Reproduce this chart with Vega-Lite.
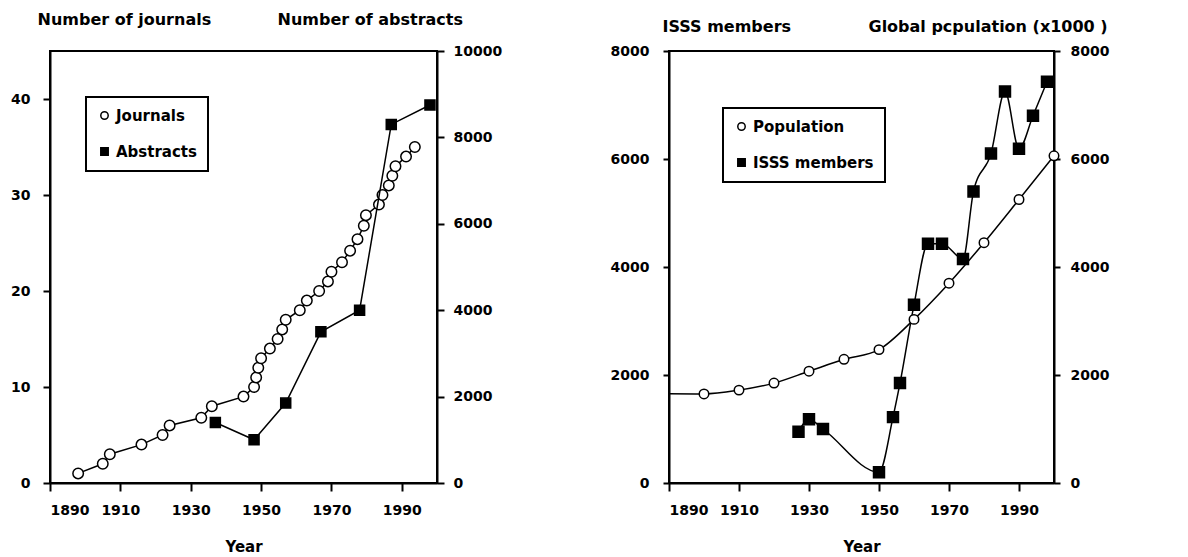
{
  "$schema": "https://vega.github.io/schema/vega-lite/v6.json",
  "background": "white",
  "padding": {"left": 9, "top": 10, "right": 5, "bottom": 0},
  "bounds": "flush",
  "spacing": 232,
  "config": {
    "view": {"stroke": "black", "strokeWidth": 2},
    "axis": {
      "grid": false, "domainColor": "black", "domainWidth": 2,
      "tickColor": "black", "tickWidth": 2, "tickSize": 7,
      "labelFont": "DejaVu Sans", "labelFontWeight": "bold", "labelFontSize": 14, "labelColor": "black",
      "titleFont": "DejaVu Sans", "titleFontWeight": "bold", "titleFontSize": 16, "titleColor": "black"
    },
    "legend": {
      "title": null, "orient": "none", "strokeColor": "black", "strokeWidth": 2, "fillColor": "white", "padding": 11, "rowPadding": 20,
      "labelFont": "DejaVu Sans", "labelFontWeight": "bold", "labelFontSize": 15, "labelColor": "black",
      "symbolSize": 55, "symbolStrokeColor": "black", "symbolStrokeWidth": 1.5, "labelOffset": 4
    }
  },
  "datasets": {
    "journals": [
      {"year": 1898, "value": 1}, {"year": 1905, "value": 2}, {"year": 1907, "value": 3},
      {"year": 1916, "value": 4}, {"year": 1922, "value": 5}, {"year": 1924, "value": 6},
      {"year": 1933, "value": 6.8}, {"year": 1936, "value": 8}, {"year": 1945, "value": 9},
      {"year": 1948, "value": 10}, {"year": 1948.6, "value": 11}, {"year": 1949.2, "value": 12},
      {"year": 1950, "value": 13}, {"year": 1952.5, "value": 14}, {"year": 1954.7, "value": 15},
      {"year": 1956, "value": 16}, {"year": 1957, "value": 17}, {"year": 1961, "value": 18},
      {"year": 1963, "value": 19}, {"year": 1966.5, "value": 20}, {"year": 1969, "value": 21},
      {"year": 1970, "value": 22}, {"year": 1973, "value": 23}, {"year": 1975.3, "value": 24.2},
      {"year": 1977.4, "value": 25.4}, {"year": 1979.2, "value": 26.8}, {"year": 1979.8, "value": 27.9},
      {"year": 1983.5, "value": 29}, {"year": 1984.5, "value": 30}, {"year": 1986.3, "value": 31},
      {"year": 1987.3, "value": 32}, {"year": 1988.2, "value": 33}, {"year": 1991.2, "value": 34},
      {"year": 1993.7, "value": 35}
    ],
    "abstracts": [
      {"year": 1937, "value": 1400}, {"year": 1948, "value": 1000}, {"year": 1957, "value": 1850},
      {"year": 1967, "value": 3500}, {"year": 1978, "value": 4000}, {"year": 1987, "value": 8300},
      {"year": 1998, "value": 8750}
    ],
    "population": [
      {"year": 1890, "value": 1655}, {"year": 1900, "value": 1650}, {"year": 1910, "value": 1720},
      {"year": 1920, "value": 1850}, {"year": 1930, "value": 2070}, {"year": 1940, "value": 2290},
      {"year": 1950, "value": 2470}, {"year": 1960, "value": 3030}, {"year": 1970, "value": 3700},
      {"year": 1980, "value": 4450}, {"year": 1990, "value": 5250}, {"year": 2000, "value": 6060}
    ],
    "isss": [
      {"year": 1927, "value": 950}, {"year": 1930, "value": 1180}, {"year": 1934, "value": 1000},
      {"year": 1950, "value": 200}, {"year": 1954, "value": 1220}, {"year": 1956, "value": 1850},
      {"year": 1960, "value": 3300}, {"year": 1964, "value": 4430}, {"year": 1968, "value": 4430},
      {"year": 1974, "value": 4150}, {"year": 1977, "value": 5400}, {"year": 1982, "value": 6100},
      {"year": 1986, "value": 7250}, {"year": 1990, "value": 6190}, {"year": 1994, "value": 6800},
      {"year": 1998, "value": 7430}
    ]
  },
  "resolve": {
    "scale": {"shape": "independent", "fill": "independent", "stroke": "independent"},
    "legend": {"shape": "independent", "fill": "independent", "stroke": "independent"}
  },
  "hconcat": [
    {
      "width": 387,
      "height": 432,
      "resolve": {"scale": {"y": "independent"}},
      "layer": [
        {
          "data": {"name": "journals"},
          "encoding": {
            "x": {"field": "year", "type": "quantitative", "scale": {"domain": [1890, 2000], "nice": false, "zero": false},
                  "axis": {"values": [1890, 1910, 1930, 1950, 1970, 1990], "format": "d", "title": "Year", "titleFontSize": 15, "labelPadding": 12, "tickSize": 8, "titlePadding": 22}},
            "y": {"field": "value", "type": "quantitative", "scale": {"domain": [0, 45], "nice": false},
                  "axis": {"orient": "left", "values": [0, 10, 20, 30, 40], "title": "Number of journals", "titleAngle": 0, "titleAlign": "left", "titleBaseline": "middle", "titleX": -13, "titleY": -32, "labelPadding": 13}}
          },
          "layer": [
            {"mark": {"type": "line", "color": "black", "strokeWidth": 1.5}},
            {"mark": {"type": "point", "strokeWidth": 1.5, "size": 110, "opacity": 1},
             "encoding": {
               "shape": {"datum": "Journals", "type": "nominal", "scale": {"domain": ["Journals", "Abstracts"], "range": ["circle", "square"]},
                         "legend": {"legendX": 36, "legendY": 46}},
               "fill": {"datum": "Journals", "type": "nominal", "scale": {"domain": ["Journals", "Abstracts"], "range": ["white", "black"]},
                        "legend": {"legendX": 36, "legendY": 46}},
               "stroke": {"datum": "Journals", "type": "nominal", "scale": {"domain": ["Journals", "Abstracts"], "range": ["black", "black"]},
                          "legend": {"legendX": 36, "legendY": 46}}
             }}
          ]
        },
        {
          "data": {"name": "abstracts"},
          "encoding": {
            "x": {"field": "year", "type": "quantitative", "scale": {"domain": [1890, 2000], "nice": false, "zero": false},
                  "axis": {"values": [1890, 1910, 1930, 1950, 1970, 1990], "format": "d", "title": "Year", "titleFontSize": 15, "labelPadding": 12, "tickSize": 8, "titlePadding": 22}},
            "y": {"field": "value", "type": "quantitative", "scale": {"domain": [0, 10000], "nice": false},
                  "axis": {"orient": "right", "values": [0, 2000, 4000, 6000, 8000, 10000], "format": "d", "title": "Number of abstracts", "titleAngle": 0, "titleAlign": "left", "titleBaseline": "middle", "titleX": -160, "titleY": -32, "labelPadding": 9}}
          },
          "layer": [
            {"mark": {"type": "line", "color": "black", "strokeWidth": 1.5}},
            {"mark": {"type": "point", "strokeWidth": 1.5, "size": 100, "opacity": 1},
             "encoding": {
               "shape": {"datum": "Abstracts", "type": "nominal"},
               "fill": {"datum": "Abstracts", "type": "nominal"},
               "stroke": {"datum": "Abstracts", "type": "nominal"}
             }}
          ]
        }
      ]
    },
    {
      "width": 385,
      "height": 432,
      "resolve": {"scale": {"y": "independent"}},
      "layer": [
        {
          "data": {"name": "isss"},
          "encoding": {
            "x": {"field": "year", "type": "quantitative", "scale": {"domain": [1890, 2000], "nice": false, "zero": false},
                  "axis": {"values": [1890, 1910, 1930, 1950, 1970, 1990], "format": "d", "title": "Year", "titleFontSize": 15, "labelPadding": 12, "tickSize": 8, "titlePadding": 22}},
            "y": {"field": "value", "type": "quantitative", "scale": {"domain": [0, 8000], "nice": false},
                  "axis": {"orient": "left", "values": [0, 2000, 4000, 6000, 8000], "format": "d", "title": "ISSS members", "titleAngle": 0, "titleAlign": "left", "titleBaseline": "middle", "titleX": -7, "titleY": -25, "labelPadding": 14, "tickSize": 6}}
          },
          "layer": [
            {"mark": {"type": "line", "color": "black", "strokeWidth": 1.5, "interpolate": "monotone"}},
            {"mark": {"type": "point", "strokeWidth": 1.5, "size": 120, "opacity": 1},
             "encoding": {
               "shape": {"datum": "ISSS members", "type": "nominal", "scale": {"domain": ["Population", "ISSS members"], "range": ["circle", "square"]},
                         "legend": {"legendX": 54, "legendY": 57}},
               "fill": {"datum": "ISSS members", "type": "nominal", "scale": {"domain": ["Population", "ISSS members"], "range": ["white", "black"]},
                        "legend": {"legendX": 54, "legendY": 57}},
               "stroke": {"datum": "ISSS members", "type": "nominal", "scale": {"domain": ["Population", "ISSS members"], "range": ["black", "black"]},
                          "legend": {"legendX": 54, "legendY": 57}}
             }}
          ]
        },
        {
          "data": {"name": "population"},
          "encoding": {
            "x": {"field": "year", "type": "quantitative", "scale": {"domain": [1890, 2000], "nice": false, "zero": false},
                  "axis": {"values": [1890, 1910, 1930, 1950, 1970, 1990], "format": "d", "title": "Year", "titleFontSize": 15, "labelPadding": 12, "tickSize": 8, "titlePadding": 22}},
            "y": {"field": "value", "type": "quantitative", "scale": {"domain": [0, 8000], "nice": false},
                  "axis": {"orient": "right", "values": [0, 2000, 4000, 6000, 8000], "format": "d", "title": "Global pcpulation (x1000 )", "titleAngle": 0, "titleAlign": "left", "titleBaseline": "middle", "titleX": -186, "titleY": -25, "labelPadding": 10, "tickSize": 6}}
          },
          "layer": [
            {"mark": {"type": "line", "color": "black", "strokeWidth": 1.5, "interpolate": "monotone"}},
            {"transform": [{"filter": "datum.year >= 1900"}],
             "mark": {"type": "point", "strokeWidth": 1.5, "size": 90, "opacity": 1},
             "encoding": {
               "shape": {"datum": "Population", "type": "nominal"},
               "fill": {"datum": "Population", "type": "nominal"},
               "stroke": {"datum": "Population", "type": "nominal"}
             }}
          ]
        }
      ]
    }
  ]
}
